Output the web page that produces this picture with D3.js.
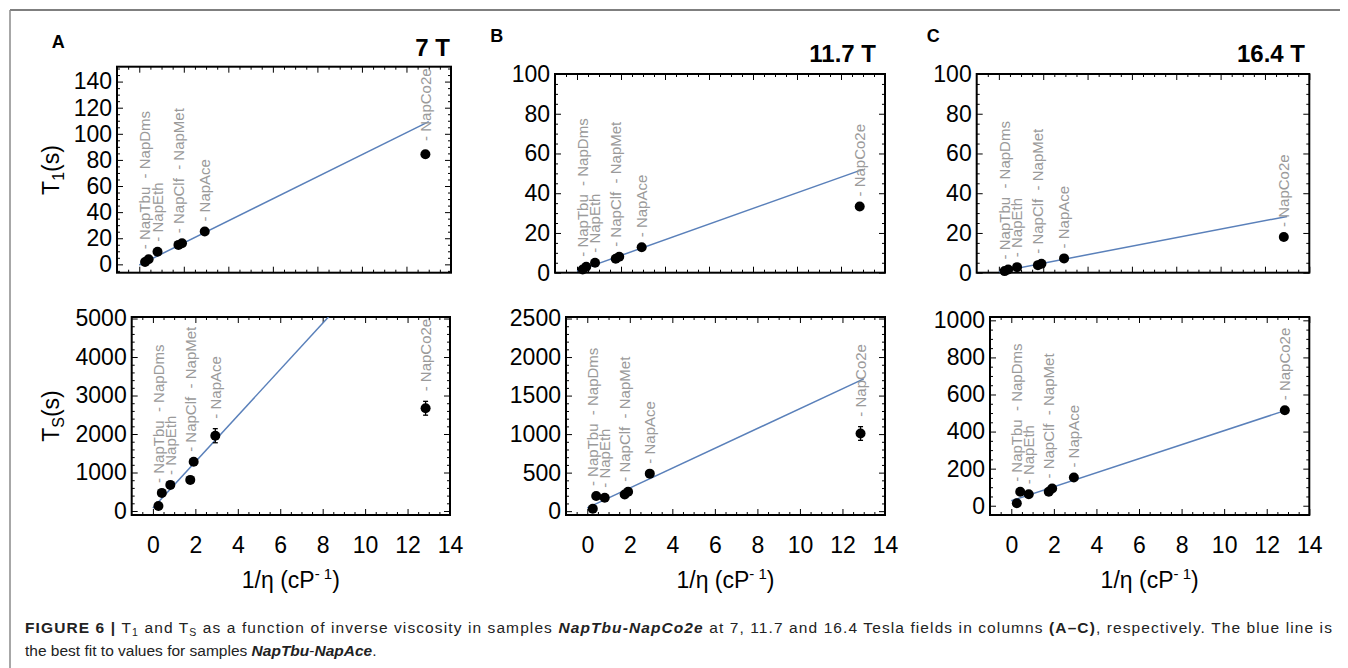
<!DOCTYPE html>
<html>
<head>
<meta charset="utf-8">
<script src="https://d3js.org/d3.v7.min.js"></script>
<style>
  body { margin: 0; background: #fff; overflow: hidden; }
  svg { display: block; font-family: "Liberation Sans", Arial, Helvetica, sans-serif; }
  .frame { fill: none; stroke: #000; stroke-width: 2px; }
  .fit { fill: none; stroke: #5a80ba; stroke-width: 1.5px; }
  .pt { fill: #000; }
  .err { stroke: #000; stroke-width: 1.3px; }
  .lbl { font-size: 15px; fill: #9a9a9a; }
  .title { font-size: 23px; fill: #000; }
  .caption { font-size: 15.5px; fill: #222; }
</style>
</head>
<body>
<svg id="fig" width="1348" height="668"></svg>
<script>

// samples and inverse viscosity (1/cP)
var samples  = ["NapTbu", "NapDms", "NapEth", "NapClf", "NapMet", "NapAce", "NapCo2e"]
var invVisc  = [0.26, 0.42, 0.82, 1.76, 1.92, 2.94, 12.85]

// T1 (s) at 7, 11.7, 16.4 T
var t1_7     = [1.8, 3.9, 9.7, 14.9, 16.2, 25.1, 84.4]
var t1_117   = [1.65, 3.0, 5.0, 7.0, 8.0, 12.8, 33.3]
var t1_164   = [0.8, 1.65, 2.8, 3.8, 4.5, 7.2, 18.0]
var t1Err_7   = [0, 0, 0, 0, 0, 0, 2.5]
var t1Err_117 = [0, 0, 0, 0, 0, 0, 0]
var t1Err_164 = [0, 0, 0, 0, 0, 0, 0]

// Ts (s) at 7, 11.7, 16.4 T
var ts_7     = [130, 470, 678, 808, 1278, 1956, 2669]
var ts_117   = [30, 196, 174, 217, 252, 487, 1008]
var ts_164   = [13, 75, 62, 75, 93, 152, 515]
var tsErr_7   = [0, 0, 0, 0, 0, 183, 180]
var tsErr_117 = [0, 0, 0, 0, 0, 0, 89]
var tsErr_164 = [0, 0, 0, 0, 0, 0, 0]

// best fit (intercept, slope) over NapTbu..NapAce
var fitT1 = [[-0.5, 8.45], [0.8, 3.94], [0.5, 2.14]]
var fitTs = [[78, 600], [43, 128.8], [27, 37.8]]
var fitRange = [0, 13]

// ticks
var xTicks    = [0, 2, 4, 6, 8, 10, 12, 14]
var t1Ticks7  = [0, 20, 40, 60, 80, 100, 120, 140]
var t1Ticks   = [0, 20, 40, 60, 80, 100]
var tsTicks7  = [0, 1000, 2000, 3000, 4000, 5000]
var tsTicks117 = [0, 500, 1000, 1500, 2000, 2500]
var tsTicks164 = [0, 200, 400, 600, 800, 1000]

var letters = ["A", "B", "C"]
var fields  = ["7 T", "11.7 T", "16.4 T"]

// labels grouped in columns (indexes into samples)
var labelCols = [[0, 1], [2], [3, 4], [5], [6]]

var svg = d3.select("#fig")

// figure border
svg.append("line").attr("x1", 10).attr("y1", 10).attr("x2", 1340).attr("y2", 10)
  .attr("stroke", "#555").attr("stroke-width", 1.5)
svg.append("line").attr("x1", 10).attr("y1", 10).attr("x2", 10).attr("y2", 668)
  .attr("stroke", "#8a8a8a").attr("stroke-width", 1.5)

var xDomain = [-1, 14]

var panels = [
  {row: 0, x0: 117,   x1: 451,    y0: 66.7, y1: 272.7, yDomain: [-6.4, 151.4], yTicks: t1Ticks7,   yMinor: 5,   vals: t1_7,   err: t1Err_7,   fit: fitT1[0]},
  {row: 0, x0: 555,   x1: 885,    y0: 74,   y1: 272.7, yDomain: [0, 100],      yTicks: t1Ticks,    yMinor: 5,   vals: t1_117, err: t1Err_117, fit: fitT1[1]},
  {row: 0, x0: 976.7, x1: 1309.3, y0: 74,   y1: 272.7, yDomain: [0, 100],      yTicks: t1Ticks,    yMinor: 5,   vals: t1_164, err: t1Err_164, fit: fitT1[2]},
  {row: 1, x0: 131.7, x1: 450,    y0: 317,  y1: 515,  yDomain: [-104, 5040],  yTicks: tsTicks7,   yMinor: 200, vals: ts_7,   err: tsErr_7,   fit: fitTs[0]},
  {row: 1, x0: 566,   x1: 885,    y0: 317,  y1: 515,  yDomain: [-50, 2520],   yTicks: tsTicks117, yMinor: 100, vals: ts_117, err: tsErr_117, fit: fitTs[1]},
  {row: 1, x0: 990,   x1: 1309.3, y0: 317,  y1: 515,  yDomain: [-50, 1018],   yTicks: tsTicks164, yMinor: 50,  vals: ts_164, err: tsErr_164, fit: fitTs[2]}
]

function minorTicks(domain, step, majors) {
  return d3.range(Math.ceil(domain[0] / step) * step, domain[1] + 1e-9, step)
    .filter(function(v) { return majors.indexOf(+v.toFixed(6)) < 0 && v > domain[0] && v < domain[1] })
}

function styleAxis(g) {
  g.select(".domain").remove()
  g.attr("font-size", 23).attr("font-family", null)
}

panels.forEach(function(p, i) {
  var x = d3.scaleLinear().domain(xDomain).range([p.x0, p.x1])
  var y = d3.scaleLinear().domain(p.yDomain).range([p.y1, p.y0])
  var g = svg.append("g")

  var clipId = "clip" + i
  g.append("clipPath").attr("id", clipId).append("rect")
    .attr("x", p.x0).attr("y", p.y0).attr("width", p.x1 - p.x0).attr("height", p.y1 - p.y0)

  var xMin = minorTicks(xDomain, 0.5, xTicks)
  var yMin = minorTicks(p.yDomain, p.yMinor, p.yTicks)

  // bottom
  g.append("g").attr("transform", "translate(0," + p.y1 + ")")
    .call(d3.axisBottom(x).tickValues(xTicks).tickSize(-6).tickSizeOuter(0).tickPadding(22)
      .tickFormat(p.row === 1 ? d3.format("d") : ""))
    .call(styleAxis)
  g.append("g").attr("transform", "translate(0," + p.y1 + ")")
    .call(d3.axisBottom(x).tickValues(xMin).tickSize(-3).tickSizeOuter(0).tickFormat(""))
    .call(styleAxis)
  // top
  g.append("g").attr("transform", "translate(0," + p.y0 + ")")
    .call(d3.axisTop(x).tickValues(xTicks).tickSize(-6).tickSizeOuter(0).tickFormat(""))
    .call(styleAxis)
  g.append("g").attr("transform", "translate(0," + p.y0 + ")")
    .call(d3.axisTop(x).tickValues(xMin).tickSize(-3).tickSizeOuter(0).tickFormat(""))
    .call(styleAxis)
  // left
  g.append("g").attr("transform", "translate(" + p.x0 + ",0)")
    .call(d3.axisLeft(y).tickValues(p.yTicks).tickSize(-6).tickSizeOuter(0).tickPadding(5)
      .tickFormat(d3.format("d")))
    .call(styleAxis)
  g.append("g").attr("transform", "translate(" + p.x0 + ",0)")
    .call(d3.axisLeft(y).tickValues(yMin).tickSize(-3).tickSizeOuter(0).tickFormat(""))
    .call(styleAxis)
  // right
  g.append("g").attr("transform", "translate(" + p.x1 + ",0)")
    .call(d3.axisRight(y).tickValues(p.yTicks).tickSize(-6).tickSizeOuter(0).tickFormat(""))
    .call(styleAxis)
  g.append("g").attr("transform", "translate(" + p.x1 + ",0)")
    .call(d3.axisRight(y).tickValues(yMin).tickSize(-3).tickSizeOuter(0).tickFormat(""))
    .call(styleAxis)

  g.append("rect").attr("class", "frame")
    .attr("x", p.x0).attr("y", p.y0).attr("width", p.x1 - p.x0).attr("height", p.y1 - p.y0)

  // fit line
  var line = d3.line().x(function(d) { return x(d) }).y(function(d) { return y(p.fit[0] + p.fit[1] * d) })
  g.append("path").attr("class", "fit").attr("clip-path", "url(#" + clipId + ")")
    .attr("d", line(fitRange))

  // error bars
  var pts = samples.map(function(s, k) { return {name: s, x: invVisc[k], y: p.vals[k], e: p.err[k]} })
  var eb = g.selectAll(".eb").data(pts.filter(function(d) { return d.e > 0 })).enter().append("g")
  eb.append("line").attr("class", "err")
    .attr("x1", function(d) { return x(d.x) }).attr("x2", function(d) { return x(d.x) })
    .attr("y1", function(d) { return y(d.y - d.e) }).attr("y2", function(d) { return y(d.y + d.e) })
  eb.append("line").attr("class", "err")
    .attr("x1", function(d) { return x(d.x) - 2.5 }).attr("x2", function(d) { return x(d.x) + 2.5 })
    .attr("y1", function(d) { return y(d.y + d.e) }).attr("y2", function(d) { return y(d.y + d.e) })
  eb.append("line").attr("class", "err")
    .attr("x1", function(d) { return x(d.x) - 2.5 }).attr("x2", function(d) { return x(d.x) + 2.5 })
    .attr("y1", function(d) { return y(d.y - d.e) }).attr("y2", function(d) { return y(d.y - d.e) })

  g.selectAll(".pt").data(pts).enter().append("circle").attr("class", "pt")
    .attr("cx", function(d) { return x(d.x) }).attr("cy", function(d) { return y(d.y) }).attr("r", 5)

  // rotated sample labels
  labelCols.forEach(function(col) {
    var first = pts[col[0]]
    var top = d3.min(col, function(k) { return y(pts[k].y + pts[k].e) }) - 10
    g.append("text").attr("class", "lbl")
      .attr("transform", "translate(" + x(first.x) + "," + top + ") rotate(-90)")
      .attr("dy", "0.36em")
      .text(col.map(function(k) { return "- " + samples[k] }).join("\u00a0\u00a0"))
  })

  // x axis title
  if (p.row === 1) {
    var t = g.append("text").attr("class", "title").attr("text-anchor", "middle")
      .attr("x", (p.x0 + p.x1) / 2).attr("y", 588)
    t.append("tspan").text("1/\u03b7 (cP")
    t.append("tspan").attr("font-size", 15).attr("dy", -9).text("- 1")
    t.append("tspan").attr("dy", 9).text(")")
  }
})

// panel letters and field strengths
var headPos = [
  {lx: 58.3,  ly: 48,   fx: 450,  fy: 56},
  {lx: 496.7, ly: 41.5, fx: 876,  fy: 62},
  {lx: 933.3, ly: 41.5, fx: 1305, fy: 62}
]
headPos.forEach(function(h, i) {
  svg.append("text").attr("x", h.lx).attr("y", h.ly).attr("text-anchor", "middle")
    .attr("font-size", 18).attr("font-weight", "bold").text(letters[i])
  svg.append("text").attr("x", h.fx).attr("y", h.fy).attr("text-anchor", "end")
    .attr("font-size", 24).attr("font-weight", "bold").text(fields[i])
})

// y axis titles
function yTitle(cy, sub) {
  var t = svg.append("text").attr("class", "title").attr("text-anchor", "middle")
    .attr("transform", "translate(59," + cy + ") rotate(-90)")
  t.append("tspan").text("T")
  t.append("tspan").attr("font-size", 16).attr("dy", 5).text(sub)
  t.append("tspan").attr("dy", -5).text("(s)")
}
yTitle(170, "1")
yTitle(416, "S")

// caption (first line stretched to the full width)
function caption(yPos, runs, width) {
  var t = svg.append("text").attr("class", "caption").attr("x", 25).attr("y", yPos)
  runs.forEach(function(r) {
    var s = t.append("tspan").text(r[0])
    if (r[1] === "b") s.attr("font-weight", "bold")
    if (r[1] === "bi") s.attr("font-weight", "bold").attr("font-style", "italic")
    if (r[1] === "sub") s.attr("font-size", 10.5).attr("dy", 3)
    if (r[1] === "after") s.attr("dy", -3)
  })
  if (width) {
    var natural = t.node().getComputedTextLength()
    var chars = runs.map(function(r) { return r[0] }).join("").length
    t.attr("letter-spacing", (width - natural) / chars)
  }
}
caption(633, [
  ["FIGURE 6 | ", "b"], ["T"], ["1", "sub"], [" and T", "after"], ["S", "sub"],
  [" as a function of inverse viscosity in samples ", "after"], ["NapTbu-NapCo2e", "bi"],
  [" at 7, 11.7 and 16.4 Tesla fields in columns "], ["(A\u2013C)", "b"],
  [", respectively. The blue line is"]
], 1308)
caption(656, [
  ["the best fit to values for samples "], ["NapTbu", "bi"], ["-"], ["NapAce", "bi"], ["."]
])

</script>
</body>
</html>
